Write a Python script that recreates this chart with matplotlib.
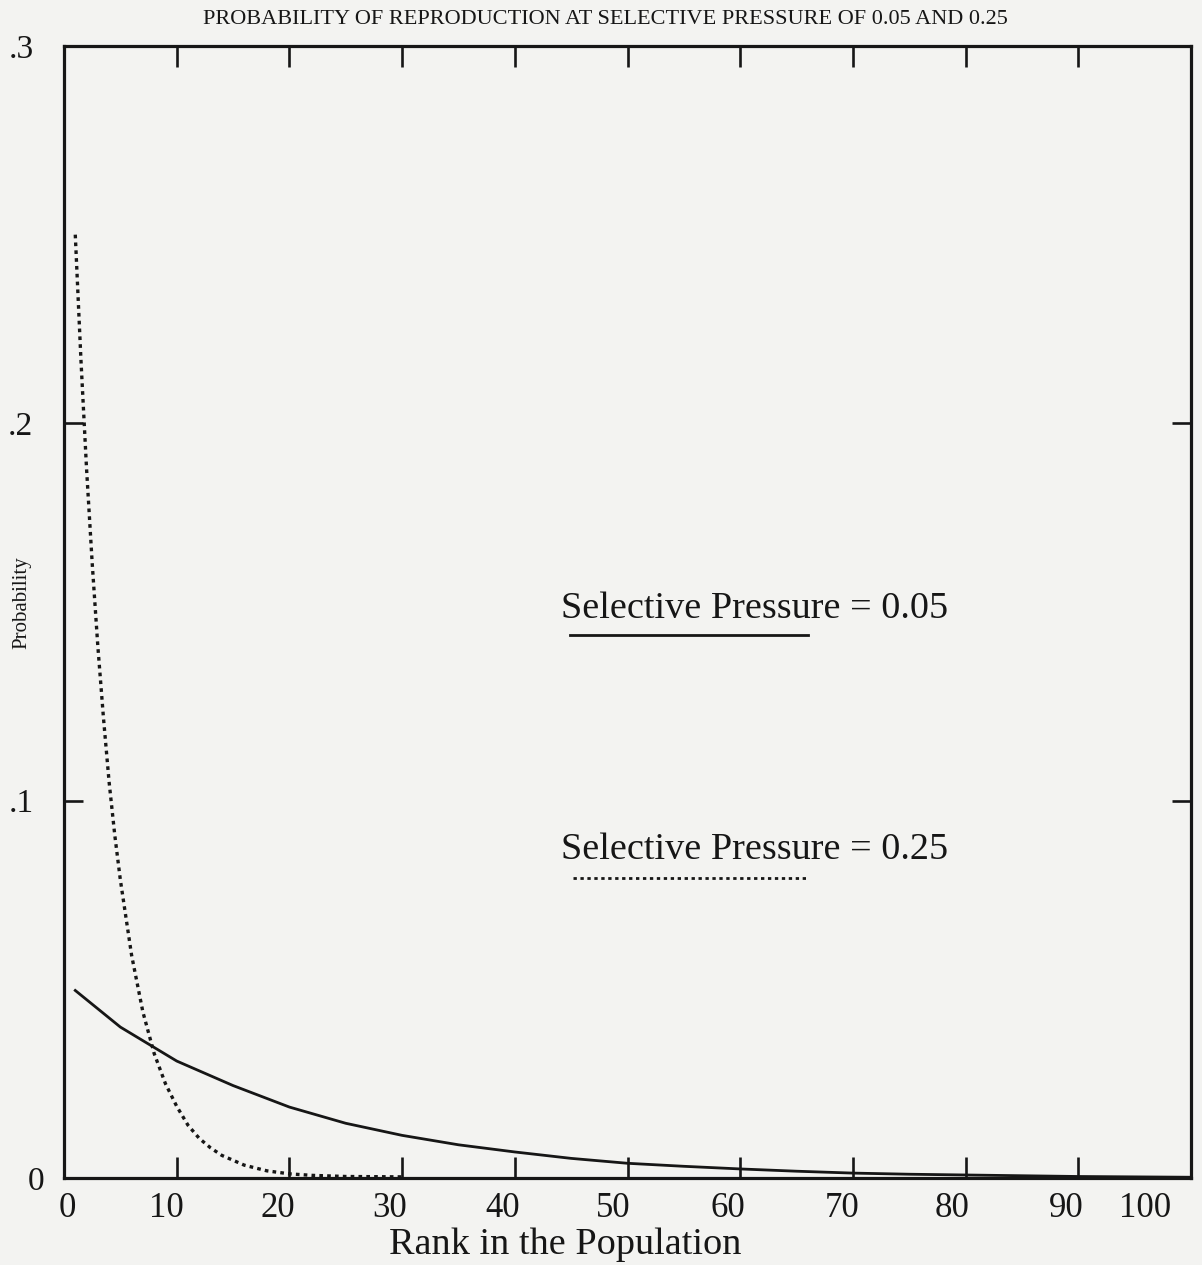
import matplotlib
matplotlib.use("Agg")
import matplotlib.pyplot as plt
from matplotlib.transforms import ScaledTranslation

# Probability of being chosen for reproduction, by rank, for two selective pressures
rank_p05 = [1, 5, 10, 15, 20, 25, 30, 35, 40, 45, 50, 55, 60, 65, 70, 75, 80, 90, 100]
prob_p05 = [0.0497, 0.0400, 0.0310, 0.0245, 0.0188, 0.0145, 0.0113, 0.0088, 0.0069,
            0.0052, 0.0039, 0.0031, 0.0024, 0.0018, 0.0013, 0.0010, 0.0008, 0.0004, 0.0002]

rank_p25 = [1, 1.5, 2, 2.5, 3, 3.5, 4, 4.5, 5, 6, 7, 8, 9, 10, 11, 12, 13, 14,
            16, 18, 20, 22, 25, 30]
prob_p25 = [0.250, 0.217, 0.188, 0.163, 0.141, 0.122, 0.105, 0.091, 0.079, 0.059,
            0.044, 0.033, 0.025, 0.019, 0.014, 0.0105, 0.0080, 0.0060, 0.0034,
            0.0019, 0.0011, 0.0007, 0.0004, 0.0003]

x_ticks = [0, 10, 20, 30, 40, 50, 60, 70, 80, 90, 100]
x_tick_labels = ["0", "10", "20", "30", "40", "50", "60", "70", "80", "90", "100"]
y_ticks = [0, 0.1, 0.2, 0.3]
y_tick_labels = ["0", ".1", ".2", ".3"]

title = "PROBABILITY OF REPRODUCTION AT SELECTIVE PRESSURE OF 0.05 AND 0.25"
x_title = "Rank in the Population"
y_title = "Probability"
series_labels = ["Selective Pressure = 0.05", "Selective Pressure = 0.25"]

plt.rcParams["font.family"] = ["Liberation Serif", "DejaVu Serif"]
ink = "#161616"
paper = "#f3f3f1"
W, H = 1202, 1265

fig = plt.figure(figsize=(W / 100, H / 100), dpi=100, facecolor=paper)
ax = fig.add_axes([64 / W, 1 - 1178 / H, (1191 - 64) / W, (1178 - 46) / H])
ax.set_facecolor(paper)

dotted = (0, (1.1, 1.25))
ax.plot(rank_p05, prob_p05, color=ink, lw=2.0, solid_joinstyle="round", clip_on=False)
ax.plot(rank_p25, prob_p25, color=ink, lw=2.4, linestyle=dotted,
        dash_capstyle="butt", clip_on=False)

ax.set_xlim(0, 100)
ax.set_ylim(0, 0.3)
for s in ax.spines.values():
    s.set_linewidth(2.3)
    s.set_color(ink)

ax.set_xticks(x_ticks)
ax.set_xticklabels(x_tick_labels)
ax.set_yticks(y_ticks)
ax.set_yticklabels(y_tick_labels)
ax.tick_params(axis="x", direction="in", length=15, width=1.9, top=True,
               labelsize=25, pad=10, colors=ink)
ax.tick_params(axis="y", direction="in", length=14, width=1.9, right=True,
               labelsize=24, pad=22, colors=ink)

# nudge the printed tick numbers the way they sit under the axis
x_shift_px = [3, -10, -12, -12, -12, -14, -12, -11, -14, -12, -46]
for lab, dx in zip(ax.get_xticklabels(), x_shift_px):
    lab.set_transform(lab.get_transform() + ScaledTranslation(dx / 100, 0, fig.dpi_scale_trans))
y_shift_px = [11, 0, 0, 0]
for lab, dx in zip(ax.get_yticklabels(), y_shift_px):
    lab.set_transform(lab.get_transform() + ScaledTranslation(dx / 100, 0, fig.dpi_scale_trans))

# in-plot key
ax.text(44.1, 0.1483, series_labels[0], fontsize=27.5, color=ink, ha="left", va="baseline")
ax.plot([44.9, 66.0], [0.144, 0.144], color=ink, lw=2.0)
ax.text(44.1, 0.0846, series_labels[1], fontsize=27.5, color=ink, ha="left", va="baseline")
ax.plot([45.2, 65.8], [0.0796, 0.0796], color=ink, lw=2.0, linestyle=(0, (1.2, 1.3)),
        dash_capstyle="butt")

fig.text(605 / W, 1 - 19 / H, title, fontsize=16, color=ink, ha="center", va="center")
fig.text(565 / W, 1 - 1245 / H, x_title, fontsize=27.5, color=ink, ha="center", va="center")
fig.text(22 / W, 1 - 603 / H, y_title, fontsize=15, color=ink, ha="center", va="center",
         rotation=90)

fig.savefig("out.png", dpi=100, facecolor=paper)
